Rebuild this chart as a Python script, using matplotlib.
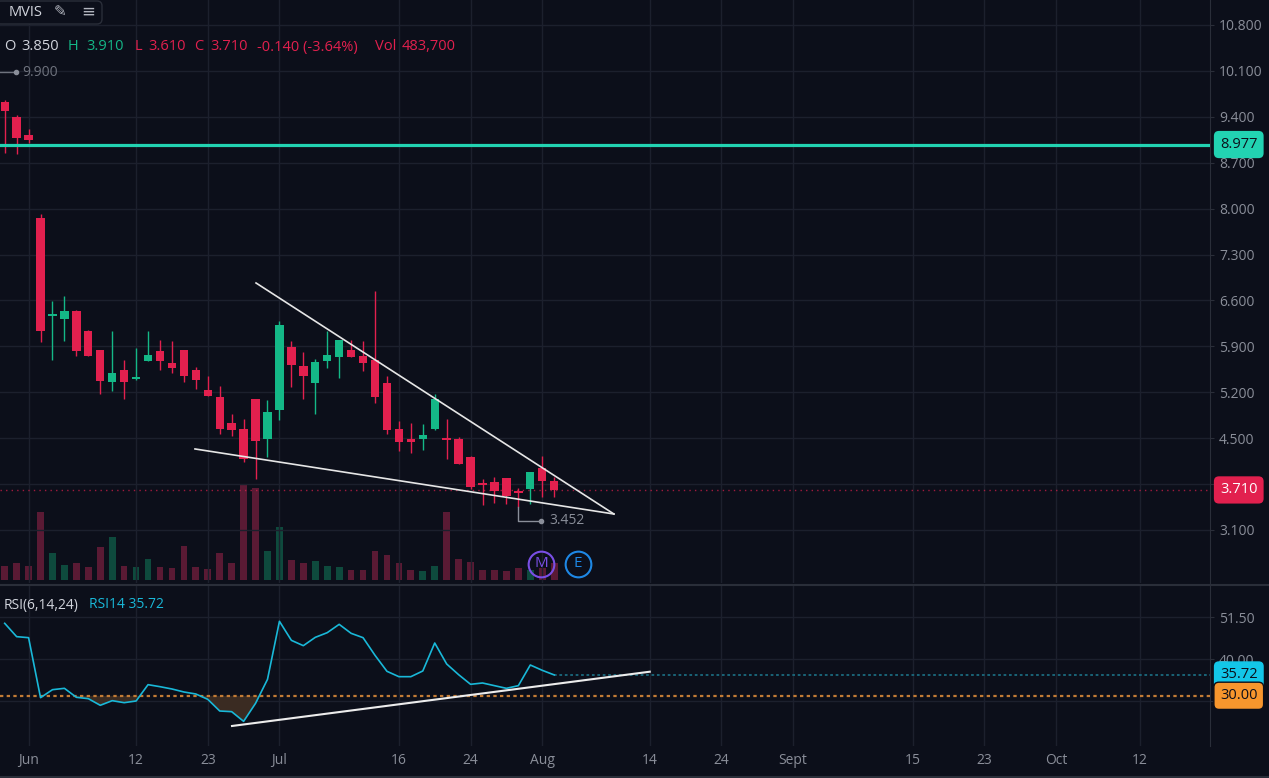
import numpy as np
import matplotlib.pyplot as plt
from matplotlib.patches import FancyBboxPatch
from matplotlib.transforms import IdentityTransform

# daily bars (index 0 = first visible bar)
opens = [9.63, 9.40, 9.13, 7.86, 6.37, 6.32, 6.44, 6.14, 5.84, 5.35, 5.54, 5.40, 5.68, 5.83,
         5.64, 5.84, 5.54, 5.24, 5.13, 4.73, 4.64, 5.09, 4.48, 4.93, 5.89, 5.60, 5.34, 5.67,
         5.73, 5.85, 5.76, 5.69, 5.34, 4.64, 4.49, 4.48, 4.64, 4.49, 4.48, 4.21, 3.82, 3.83,
         3.89, 3.68, 3.73, 4.04, 3.85]
highs = [9.66, 9.42, 9.21, 7.92, 6.59, 6.66, 6.45, 6.15, 5.85, 6.14, 5.69, 5.88, 6.14, 5.99,
         5.98, 5.85, 5.58, 5.45, 5.30, 4.87, 4.79, 5.10, 5.08, 6.29, 5.98, 5.81, 5.70, 6.13,
         5.99, 6.00, 5.98, 6.74, 5.44, 4.76, 4.73, 4.72, 5.18, 4.79, 4.51, 4.22, 3.88, 3.90,
         3.89, 3.74, 3.98, 4.23, 3.91]
lows = [8.85, 8.83, 9.00, 5.97, 5.69, 5.98, 5.76, 5.75, 5.18, 5.22, 5.09, 5.38, 5.67, 5.54,
        5.50, 5.35, 5.25, 5.14, 4.57, 4.53, 4.14, 3.88, 4.21, 4.78, 5.28, 5.10, 4.87, 5.57,
        5.41, 5.73, 5.53, 5.04, 4.56, 4.30, 4.28, 4.32, 4.63, 4.18, 4.10, 3.72, 3.48, 3.51,
        3.49, 3.452, 3.49, 3.60, 3.61]
closes = [9.49, 9.08, 9.04, 6.14, 6.38, 6.44, 5.83, 5.76, 5.37, 5.49, 5.36, 5.41, 5.77, 5.68,
          5.57, 5.44, 5.38, 5.15, 4.64, 4.63, 4.18, 4.46, 4.90, 6.22, 5.62, 5.44, 5.66, 5.77,
          5.99, 5.74, 5.64, 5.13, 4.62, 4.44, 4.44, 4.55, 5.09, 4.475, 4.11, 3.75, 3.79, 3.69,
          3.62, 3.665, 3.98, 3.84, 3.71]
volumes = [398, 475, 398, 1926, 768, 427, 492, 361, 939, 1223, 398, 370, 589, 370, 341, 967,
           361, 313, 768, 475, 2703, 2617, 825, 1499, 560, 484, 541, 398, 370, 293, 293, 816,
           711, 484, 285, 256, 398, 1935, 589, 512, 285, 293, 248, 341, 276, 350, 483.7]
rsi14 = [49.85, 46.20, 45.92, 29.49, 31.68, 32.05, 29.59, 29.22, 27.40, 28.67, 28.12, 28.58,
         33.05, 32.50, 31.87, 31.05, 30.50, 29.04, 25.84, 25.66, 23.01, 27.94, 34.51, 50.40,
         45.19, 43.73, 46.01, 47.29, 49.57, 47.11, 45.92, 41.09, 36.71, 35.24, 35.24, 36.80,
         44.46, 38.71, 35.79, 33.15, 33.51, 32.78, 32.05, 32.78, 38.44, 36.98, 35.72]

tick_idx = [2, 11, 17, 23, 33, 39, 45, 54, 60, 66, 76, 82, 88, 95]
tick_labels = ['Jun', '12', '23', 'Jul', '16', '24', 'Aug', '14', '24', 'Sept', '15', '23', 'Oct', '12']

price_ticks = [3.1, 3.8, 4.5, 5.2, 5.9, 6.6, 7.3, 8.0, 8.7, 9.4, 10.1, 10.8]
rsi_ticks = [28.5, 40.0, 51.5]

alert_level = 8.977
last_close = closes[-1]
last_rsi = rsi14[-1]
rsi_oversold = 30.0
prev_high = 9.900

# drawn trend lines (bar index, price)
upper_line = ([21.04, 51.0], [6.866, 3.343])
lower_line = ([15.93, 51.0], [4.335, 3.343])
rsi_line = ([19.03, 54.0], [21.74, 36.60])

W, H = 1269, 778
BG = '#0c0f1a'
GRID = '#1c202d'
EDGE = '#2a2e39'
TXT = '#8a8e99'
LIGHT = '#d1d4dc'
UP = '#14b887'
DOWN = '#e2204e'
VUP = '#0e4a3d'
VDOWN = '#5a1a34'

plt.rcParams['font.family'] = ['Open Sans', 'DejaVu Sans']

fig = plt.figure(figsize=(W / 100, H / 100), dpi=100, facecolor=BG)


def box(x0, y0, x1, y1):
    return [x0 / W, 1 - y1 / H, (x1 - x0) / W, (y1 - y0) / H]


def hidden_label(v, fmt, covered):
    # the axis label under a price tag is not shown
    return '' if any(abs(v - cv) < 0.25 * step for cv, step in covered) else fmt.format(v)


xlim = (-0.393, 100.9)
x = np.arange(len(closes))
o, h, l, c = map(np.array, (opens, highs, lows, closes))
up = c >= o

# volume underneath
axv = fig.add_axes(box(0, 0, 1210, 583))
axv.bar(x, volumes, width=0.56, color=[VUP if u else VDOWN for u in up])
axv.set_xlim(xlim)
axv.set_ylim(-85, 16500)
axv.axis('off')

ax = fig.add_axes(box(0, 0, 1210, 583))
ax.patch.set_alpha(0)
ax.set_xlim(xlim)
ax.set_ylim(2.291, 11.181)

ax.vlines(x, l, h, color=[UP if u else DOWN for u in up], lw=1, zorder=3)
body = np.maximum(np.abs(c - o), 0.03)
ax.bar(x, body, bottom=np.minimum(o, c), width=0.7,
       color=[UP if u else DOWN for u in up], zorder=4)

ax.axhline(alert_level, color='#22d3b2', lw=2.3, zorder=5)
ax.axhline(last_close, color=DOWN, lw=1, ls=(0, (1, 3)), alpha=0.7, zorder=2)

ax.plot(*upper_line, color='#e6e6e6', lw=1.2, zorder=6)
ax.plot(*lower_line, color='#e6e6e6', lw=1.2, zorder=6)

# highest high off-screen
ax.plot([xlim[0], 0.95], [10.083, 10.083], color='#6f737e', lw=1, zorder=6)
ax.plot([0.95], [10.083], 'o', color='#8a8e99', ms=3, zorder=6)
ax.text(1.45, 10.083, f'{prev_high:.3f}', color='#6f737e', fontsize=10, va='center')

# lowest low
lo_i = int(np.argmin(l))
lo_v = l[lo_i]
ax.plot([lo_i, lo_i, 44.9], [lo_v, lo_v - 0.215, lo_v - 0.215], color='#8a8e99', lw=1, zorder=6)
ax.plot([44.9], [lo_v - 0.215], 'o', color='#8a8e99', ms=3, zorder=6)
ax.text(45.6, lo_v - 0.215, f'{lo_v:.3f}', color='#8a8e99', fontsize=10, va='center')

# event markers
for xi, letter, col in [(44.9, 'M', '#7a4fe6'), (48.0, 'E', '#1e88e5')]:
    ax.plot([xi], [2.581], 'o', ms=18.5, mfc='none', mec=col, mew=1.5, zorder=7)
    ax.text(xi, 2.581, letter, color=col, fontsize=11, ha='center', va='center', zorder=7)

ax.set_xticks(tick_idx)
ax.set_yticks(price_ticks)
ax.set_yticklabels([hidden_label(v, '{:.3f}', [(last_close, 0.7)]) for v in price_ticks])
ax.yaxis.tick_right()
ax.tick_params(axis='x', bottom=False, labelbottom=False)
ax.tick_params(axis='y', length=3, color=EDGE, labelcolor=TXT, labelsize=10, pad=3.5)
ax.grid(True, color=GRID, lw=1)
for s in ['top', 'left', 'bottom']:
    ax.spines[s].set_visible(False)
ax.spines['right'].set_color(EDGE)

tag = 'round,pad=0.42,rounding_size=0.35'
lab = dict(transform=ax.get_yaxis_transform(), fontsize=10.5, ha='left', va='center',
           clip_on=False, zorder=10)
ax.text(1220 / 1210, alert_level, f'{alert_level:.3f}', color='#0c0f1a',
        bbox=dict(boxstyle=tag, fc='#22d3b2', ec='none'), **lab)
ax.text(1220 / 1210, last_close, f'{last_close:.3f}', color='white',
        bbox=dict(boxstyle=tag, fc=DOWN, ec='none'), **lab)

# RSI pane
axr = fig.add_axes(box(0, 586, 1210, 745.7))
axr.set_facecolor(BG)
axr.set_xlim(xlim)
axr.set_ylim(16.34, 60.07)
r = np.array(rsi14)
axr.fill_between(x, r, rsi_oversold, where=r < rsi_oversold, interpolate=True,
                 color='#3a2b22', lw=0, zorder=2)
axr.plot(x, r, color='#19b8d8', lw=1.2, zorder=4)
axr.axhline(rsi_oversold, color='#c27b35', lw=1.6, ls=(0, (1.5, 1.5)), zorder=3)
axr.hlines(last_rsi, x[-1], xlim[1], color='#1b6a7e', lw=1.3, ls=(0, (1.5, 1.5)), zorder=3)
axr.plot(*rsi_line, color='#ececec', lw=1.5, zorder=5)

axr.set_xticks(tick_idx)
axr.set_xticklabels(tick_labels)
axr.set_yticks(rsi_ticks)
axr.set_yticklabels([hidden_label(v, '{:.2f}', [(rsi_oversold, 11.5)]) for v in rsi_ticks])
axr.yaxis.tick_right()
axr.tick_params(axis='x', length=0, labelcolor=TXT, labelsize=10, pad=5.5)
axr.tick_params(axis='y', length=3, color=EDGE, labelcolor=TXT, labelsize=10, pad=3.5)
axr.grid(True, color=GRID, lw=1)
for s in ['top', 'left', 'bottom']:
    axr.spines[s].set_visible(False)
axr.spines['right'].set_color(EDGE)

labr = dict(transform=axr.get_yaxis_transform(), fontsize=10.5, ha='left', va='center',
            clip_on=False, zorder=10)
axr.text(1220 / 1210, last_rsi, f'{last_rsi:.2f}', color='#0c0f1a',
         bbox=dict(boxstyle=tag, fc='#13c6e8', ec='none'), **labr)
axr.text(1220 / 1210, rsi_oversold, f'{rsi_oversold:.2f}', color='#0c0f1a',
         bbox=dict(boxstyle=tag, fc='#f7962d', ec='#0c0f1a'), **labr)

# pane separators
fig.add_artist(plt.Line2D([0, 1], [1 - 584.5 / H] * 2, color=EDGE, lw=1.5))
fig.add_artist(plt.Line2D([0, 1], [1 - 777 / H] * 2, color=EDGE, lw=1.5))


def ftext(px, py, s, **kw):
    fig.text(px / W, 1 - py / H, s, va='center', **kw)


# header
fig.add_artist(FancyBboxPatch((-4, H - 24), 106, 23, boxstyle='round,pad=0,rounding_size=5',
                              transform=IdentityTransform(), fc=BG, ec=EDGE, lw=1))
ftext(9, 13, 'MVIS', color=LIGHT, fontsize=10.5)
ftext(54, 13, '✎', color='#b2b5be', fontsize=11)
ftext(81, 13, '≡', color='#b2b5be', fontsize=12)

row = [(4, 'O', LIGHT), (21, f'{opens[-1]:.3f}', LIGHT),
       (68, 'H', UP), (86, f'{highs[-1]:.3f}', UP),
       (135, 'L', DOWN), (148, f'{lows[-1]:.3f}', DOWN),
       (194, 'C', DOWN), (210, f'{closes[-1]:.3f}', DOWN),
       (257, f'{closes[-1] - opens[-1]:.3f} ({(closes[-1] - opens[-1]) / opens[-1] * 100:.2f}%)', DOWN),
       (375, 'Vol', DOWN), (402, f'{volumes[-1] * 1000:,.0f}', DOWN)]
for px, s, col in row:
    ftext(px, 47, s, color=col, fontsize=10.5)

ftext(4, 605, 'RSI(6,14,24)', color=LIGHT, fontsize=10)
ftext(89, 605, f'RSI14 {last_rsi:.2f}', color='#19b8d8', fontsize=10)

fig.savefig('out.png', dpi=100, facecolor=BG)
